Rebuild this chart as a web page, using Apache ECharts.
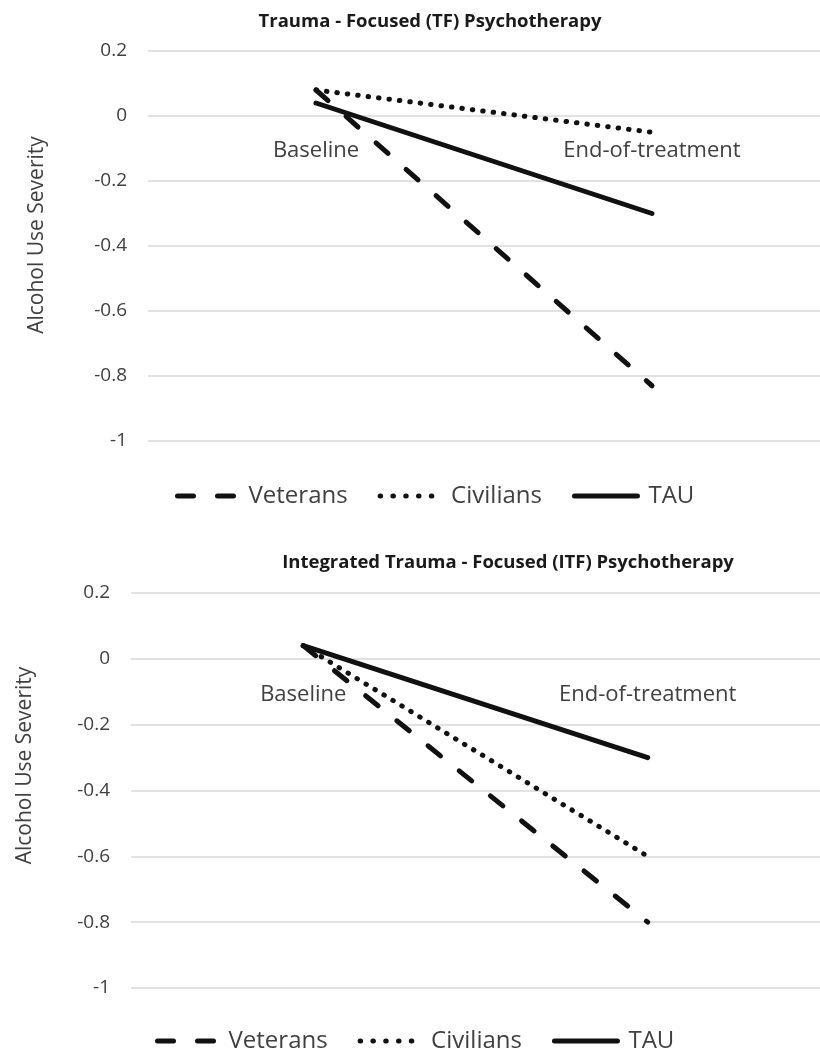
<!DOCTYPE html>
<html>
<head>
<meta charset="utf-8">
<script src="https://cdn.jsdelivr.net/npm/echarts@6/dist/echarts.min.js"></script>
<style>
  html, body { margin: 0; padding: 0; background: #ffffff; }
  #chart { width: 820px; height: 1055px; }
</style>
</head>
<body>
<div id="chart"></div>
<script>
// ---- data ----
const categories = ['Baseline', 'End-of-treatment'];
const seriesNames = ['Veterans', 'Civilians', 'TAU'];
const tfVeterans = [0.08, -0.83];
const tfCivilians = [0.08, -0.05];
const tfTAU = [0.04, -0.30];
const itfVeterans = [0.04, -0.80];
const itfCivilians = [0.04, -0.60];
const itfTAU = [0.04, -0.30];
const yMin = -1, yMax = 0.2, yStep = 0.2;
const titles = ['Trauma - Focused (TF) Psychotherapy', 'Integrated Trauma - Focused (ITF) Psychotherapy'];
const yName = 'Alcohol Use Severity';

const FONT = '"Open Sans", "Noto Sans", sans-serif';
const TXT = '#404040';
const LINE = '#111111';
const GRIDC = '#d9d9d9';

const styles = {
  Veterans: { type: [16, 24], cap: 'round' },
  Civilians: { type: [0.5, 10], cap: 'round' },
  TAU: { type: 'solid', cap: 'round' }
};

function mkSeries(name, data, idx) {
  return {
    name: name, type: 'line', data: data,
    xAxisIndex: idx, yAxisIndex: idx,
    symbol: 'none', silent: true, animation: false,
    itemStyle: { color: LINE },
    lineStyle: Object.assign({ width: 5, color: LINE }, styles[name])
  };
}

const chart = echarts.init(document.getElementById('chart'), null, { renderer: 'canvas' });

const grids = [
  { left: 148, top: 51, width: 680, height: 390 },
  { left: 131, top: 593, width: 698, height: 395 }
];
const nameGaps = [100, 95];
const namePad = [[0, 0, 0, 22], [0, 0, 0, 50]];
const labelMargins = [24, 25];
// the category axis sits on the value 0 line
const zeroOffset = g => -((0 - yMin) / (yMax - yMin)) * g.height;

const option = {
  backgroundColor: '#ffffff',
  animation: false,
  grid: grids,
  xAxis: grids.map((g, i) => ({
    type: 'category', gridIndex: i, data: categories, boundaryGap: true,
    position: 'bottom', offset: zeroOffset(g),
    axisLine: { show: false, onZero: false },
    axisTick: { show: false },
    axisLabel: { show: true, margin: labelMargins[i], fontFamily: FONT, fontSize: 22, color: TXT, interval: 0 }
  })),
  yAxis: grids.map((g, i) => ({
    type: 'value', gridIndex: i, min: yMin, max: yMax, interval: yStep,
    axisLine: { show: false }, axisTick: { show: false },
    splitLine: { show: true, lineStyle: { color: GRIDC, width: 1.5 } },
    axisLabel: { margin: 21, fontFamily: FONT, fontSize: 19, color: TXT,
      formatter: v => String(+v.toFixed(1)) },
    name: yName, nameLocation: 'middle', nameGap: nameGaps[i],
    nameTextStyle: { fontFamily: FONT, fontSize: 21, color: TXT, padding: namePad[i] }
  })),
  legend: [
    { left: 170, top: 479 },
    { left: 150, top: 1024 }
  ].map(p => ({
    left: p.left, top: p.top, orient: 'horizontal',
    itemWidth: 63, itemHeight: 14, itemGap: 30,
    itemStyle: { color: 'rgba(0,0,0,0)', borderColor: 'rgba(0,0,0,0)', borderWidth: 0, opacity: 0 },
    data: seriesNames.map(n => ({
      name: n,
      lineStyle: Object.assign({ width: 5, color: LINE }, styles[n], n === 'Civilians' ? { type: [0.5, 12.3] } : {}),
      textStyle: { padding: n === 'TAU' ? [0, 0, 0, 6] : [0, 0, 0, 3] }
    })),
    textStyle: { fontFamily: FONT, fontSize: 24, color: TXT },
    selectedMode: false
  })),
  graphic: [
    { type: 'text', x: 430, y: 22, silent: true,
      style: { text: titles[0], font: 'bold 18.5px ' + FONT, fill: '#1a1a1a', align: 'center', verticalAlign: 'middle' } },
    { type: 'text', x: 508, y: 563, silent: true,
      style: { text: titles[1], font: 'bold 18.5px ' + FONT, fill: '#1a1a1a', align: 'center', verticalAlign: 'middle' } }
  ],
  series: [
    mkSeries('Veterans', tfVeterans, 0),
    mkSeries('Civilians', tfCivilians, 0),
    mkSeries('TAU', tfTAU, 0),
    mkSeries('Veterans', itfVeterans, 1),
    mkSeries('Civilians', itfCivilians, 1),
    mkSeries('TAU', itfTAU, 1)
  ]
};
chart.setOption(option);
</script>
</body>
</html>
